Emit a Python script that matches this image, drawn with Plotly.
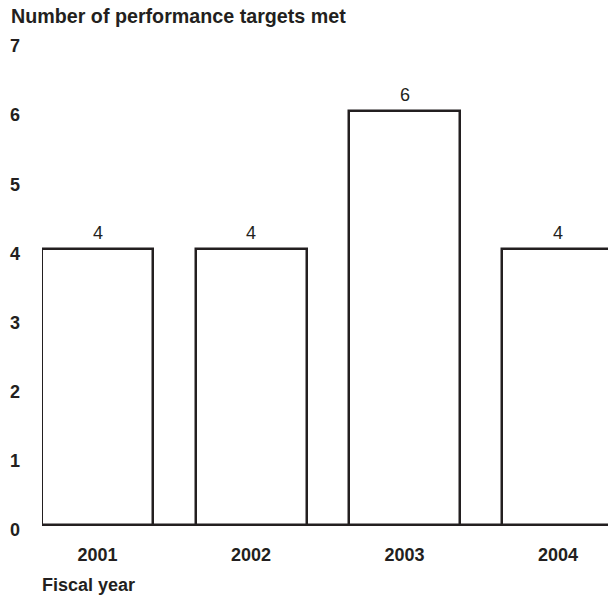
import plotly.graph_objects as go

# Performance targets met per fiscal year
years = ["2001", "2002", "2003", "2004"]
targets_met = [4, 4, 6, 4]
y_ticks = [0, 1, 2, 3, 4, 5, 6, 7]

ink = "#231f20"
font_family = "Liberation Sans, Arial, Helvetica, sans-serif"

fig = go.Figure()
fig.add_trace(go.Bar(
    x=years,
    y=targets_met,
    width=0.723,
    marker=dict(color="white", line=dict(color=ink, width=2.5)),
    hoverinfo="skip",
))

# Value labels above each bar (x given as category index)
for i, v in enumerate(targets_met):
    fig.add_annotation(
        x=i, y=v, text=str(v), showarrow=False,
        yanchor="bottom", yshift=4,
        font=dict(family=font_family, size=18, color=ink),
    )

# Heavy zero baseline across the plot
fig.add_shape(
    type="line", xref="paper", yref="y", x0=0, x1=1, y0=0, y1=0,
    line=dict(color=ink, width=5), layer="above",
)

fig.add_annotation(
    xref="paper", yref="paper", x=-33 / 566, y=1, yshift=26,
    xanchor="left", yanchor="middle", showarrow=False,
    text="<b>Number of performance targets met</b>",
    font=dict(family=font_family, size=19.7, color=ink),
)
fig.add_annotation(
    xref="paper", yref="paper", x=-2 / 566, y=0, yshift=-59,
    xanchor="left", yanchor="middle", showarrow=False,
    text="<b>Fiscal year</b>",
    font=dict(family=font_family, size=18, color=ink),
)

fig.update_layout(
    width=608, height=596,
    margin=dict(l=42, r=0, t=42, b=70),
    paper_bgcolor="white", plot_bgcolor="white",
    showlegend=False,
    bargap=0,
    xaxis=dict(
        type="category",
        range=[-0.362, 3.326],
        showgrid=False, zeroline=False, showline=False,
        ticks="", ticklabelstandoff=16,
        tickfont=dict(family=font_family, size=18, color=ink, weight="bold"),
    ),
    yaxis=dict(
        range=[0, 7],
        tickvals=y_ticks,
        ticktext=[str(t) for t in y_ticks],
        showgrid=False, zeroline=False, showline=False,
        ticks="", ticklabelstandoff=21, ticklabelshift=4,
        tickfont=dict(family=font_family, size=18, color=ink, weight="bold"),
    ),
)

fig.write_html("out.html")
